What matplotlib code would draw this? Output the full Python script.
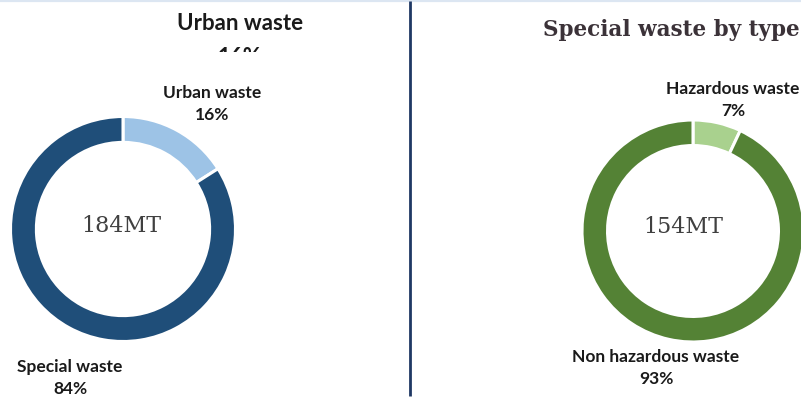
import matplotlib
matplotlib.use("Agg")
import matplotlib.pyplot as plt
from matplotlib.transforms import Bbox

# waste split (percent) and totals
urban_labels = ["Urban waste", "Special waste"]
urban_shares = [16, 84]
urban_total = "184MT"

special_labels = ["Hazardous waste", "Non hazardous waste"]
special_shares = [7, 93]
special_total = "154MT"

W, H = 801, 398
fig = plt.figure(figsize=(W / 100, H / 100), dpi=100)
fig.patch.set_facecolor("white")


def pie_axes(cx, cy, r):
    # axes box in pixel units, y measured from the top
    return fig.add_axes([(cx - r) / W, (H - cy - r) / H, 2 * r / W, 2 * r / H])


def donut(ax, shares, colors):
    ax.pie(shares, colors=colors, startangle=90, counterclock=False,
           radius=1.0, wedgeprops=dict(width=0.23, edgecolor="white", linewidth=2.2))
    ax.set_xlim(-1, 1)
    ax.set_ylim(-1, 1)
    ax.set_aspect("equal")
    ax.axis("off")


ax1 = pie_axes(123, 229, 112.5)
donut(ax1, urban_shares, ["#9DC3E6", "#1F4E79"])

ax2 = pie_axes(693, 231, 111)
donut(ax2, special_shares, ["#A9D18E", "#548235"])

# overlay for text and rules, pixel coordinates
ov = fig.add_axes([0, 0, 1, 1], facecolor="none")
ov.set_xlim(0, W)
ov.set_ylim(H, 0)
ov.axis("off")

ov.plot([0, W], [0.8, 0.8], color="#DCE6F2", lw=1.6, solid_capstyle="butt")
ov.plot([410, 410], [1, 396], color="#1F3864", lw=2, solid_capstyle="butt")

sans = ["Lato", "DejaVu Sans"]
serif = ["DejaVu Serif"]

# left panel heading, lower line cut off by the panel edge
ov.text(240, 24, urban_labels[0], ha="center", va="center", fontsize=16,
        fontweight="bold", family=sans, color="#1a1a1a")
t = ov.text(240, 57, f"{urban_shares[0]}%", ha="center", va="center", fontsize=16,
            fontweight="bold", family=sans, color="#1a1a1a")
t.set_clip_box(Bbox.from_extents(0, H - 52, W, H))
t.set_clip_on(True)

ov.text(543, 30, "Special waste by type", ha="left", va="center", fontsize=15.5,
        fontweight="bold", family=serif, color="#3B3238")

lab = dict(ha="center", va="center", fontsize=12.5, fontweight="bold",
           family=sans, color="#1a1a1a", linespacing=1.5)
ov.text(212, 104, f"{urban_labels[0]}\n{urban_shares[0]}%", **lab)
ov.text(70, 378, f"{urban_labels[1]}\n{urban_shares[1]}%", **lab)
ov.text(733, 100, f"{special_labels[0]}\n{special_shares[0]}%", **lab)
ov.text(656, 368, f"{special_labels[1]}\n{special_shares[1]}%", **lab)

mid = dict(ha="center", va="center", fontsize=16, family=serif, color="#404040")
ov.text(121, 226, urban_total, **mid)
ov.text(683, 227, special_total, **mid)

fig.savefig("out.png", dpi=100)
